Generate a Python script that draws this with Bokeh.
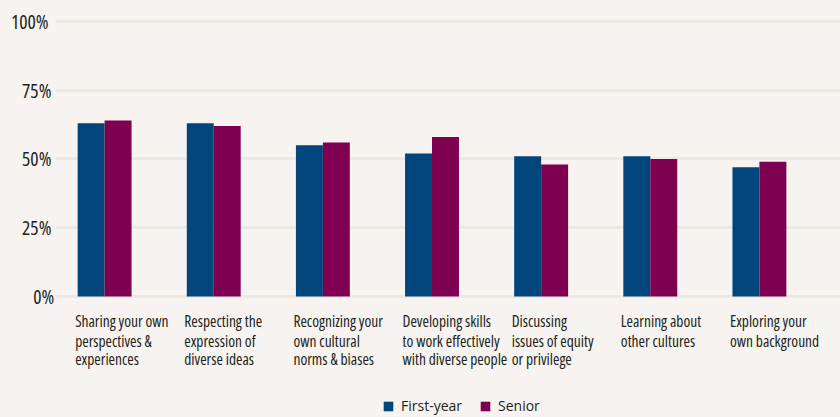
from bokeh.plotting import figure
from bokeh.models import (FixedTicker, Legend, LegendItem, ColumnDataSource, Range1d,
                          LabelSet)
from bokeh.core.properties import value
from bokeh.embed import file_html
from bokeh.resources import INLINE

# ---- data ----
categories = [
    "Sharing your own\nperspectives &\nexperiences",
    "Respecting the\nexpression of\ndiverse ideas",
    "Recognizing your\nown cultural\nnorms & biases",
    "Developing skills\nto work effectively\nwith diverse people",
    "Discussing\nissues of equity\nor privilege",
    "Learning about\nother cultures",
    "Exploring your\nown background",
]
first_year = [63, 63, 55, 52, 51, 51, 47]
senior = [64, 62, 56, 58, 48, 50, 49]
y_ticks = [0, 25, 50, 75, 100]
y_tick_labels = ["0%", "25%", "50%", "75%", "100%"]
series_names = ["First-year", "Senior"]

# ---- styles ----
BG = "#f6f3f0"
GRID = "#ece8e4"
NAVY = "#00457c"
MAROON = "#7f0050"
TEXT = "#231f20"
FONT = "Open Sans"

BAR_W = 0.247
idx = list(range(len(categories)))

src = ColumnDataSource(dict(
    x_fy=[i - BAR_W / 2 for i in idx],
    x_sr=[i + BAR_W / 2 for i in idx],
    fy=first_year,
    sr=senior,
))

p = figure(width=840, height=417, output_backend="svg", toolbar_location=None,
           x_range=Range1d(-0.45, 6.743), y_range=Range1d(-44.0, 107.6),
           x_axis_location=None,
           min_border_left=55, min_border_right=0, min_border_top=0,
           min_border_bottom=0)

p.background_fill_color = BG
p.border_fill_color = BG
p.outline_line_color = None

r1 = p.vbar(x="x_fy", top="fy", width=BAR_W, source=src, fill_color=NAVY, line_color=None)
r2 = p.vbar(x="x_sr", top="sr", width=BAR_W, source=src, fill_color=MAROON, line_color=None)

# y axis
p.yaxis.ticker = FixedTicker(ticks=y_ticks)
p.yaxis.major_label_overrides = {t: l for t, l in zip(y_ticks, y_tick_labels)}
p.yaxis.axis_line_color = None
p.yaxis.major_tick_line_color = None
p.yaxis.minor_tick_line_color = None
p.yaxis.major_tick_out = 0
p.yaxis.major_tick_in = 0
p.yaxis.minor_tick_out = 0
p.yaxis.major_label_text_font = FONT
p.yaxis.major_label_text_font_size = "19.5px"
p.yaxis.major_label_text_color = TEXT
p.yaxis.major_label_standoff = -5

p.ygrid.ticker = FixedTicker(ticks=y_ticks)
p.ygrid.grid_line_color = GRID
p.ygrid.grid_line_width = 3
p.xgrid.grid_line_color = None

# category labels: one text line per row, left-aligned at each bar pair's left edge
lines = [c.split("\n") for c in categories]
line_offsets = [-31, -50.5, -69]
for k in range(3):
    lsrc = ColumnDataSource(dict(
        x=[i - BAR_W - 0.023 for i in idx],
        y=[0] * len(idx),
        text=[ls[k] if k < len(ls) else "" for ls in lines],
    ))
    p.add_layout(LabelSet(x="x", y="y", text="text", source=lsrc,
                          y_offset=line_offsets[k], text_align="left",
                          text_baseline="alphabetic", text_font=value(FONT),
                          text_font_size=value("15.5px"), text_color=value(TEXT)))

legend = Legend(items=[LegendItem(label=series_names[0], renderers=[r1]),
                       LegendItem(label=series_names[1], renderers=[r2])],
                orientation="horizontal", location=(327, 2))
legend.background_fill_alpha = 0
legend.border_line_color = None
legend.padding = 0
legend.margin = 0
legend.spacing = 17
legend.glyph_width = 12
legend.glyph_height = 12
legend.label_height = 14
legend.label_standoff = 7
legend.label_text_font = FONT
legend.label_text_font_size = "14px"
legend.label_text_color = TEXT
p.add_layout(legend)

tmpl = """{% block preamble %}<style>body{background-color:#f6f3f0; font-stretch:75%;}</style>{% endblock %}"""
open("out.html", "w").write(file_html(p, INLINE, template=tmpl))
